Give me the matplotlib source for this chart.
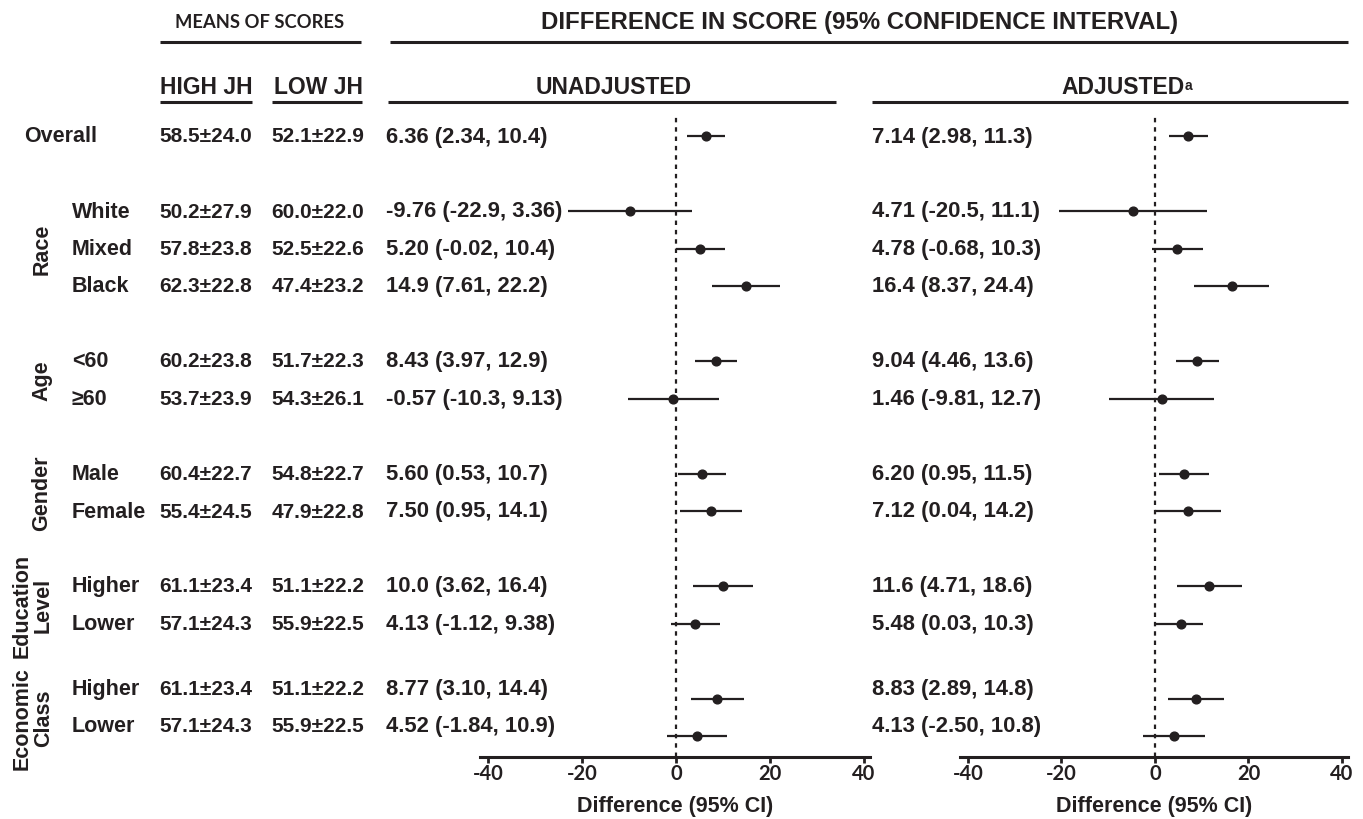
import matplotlib
matplotlib.use("Agg")
import matplotlib.pyplot as plt

# ---------------- data ----------------
groups = ["", "Race", "Age", "Gender", "Education\nLevel", "Economic\nClass"]
row_group = [0, 1, 1, 1, 2, 2, 3, 3, 4, 4, 5, 5]
row_labels = ["Overall", "White", "Mixed", "Black", "<60", "≥60", "Male", "Female",
              "Higher", "Lower", "Higher", "Lower"]

high_jh = ["58.5±24.0", "50.2±27.9", "57.8±23.8", "62.3±22.8", "60.2±23.8", "53.7±23.9",
           "60.4±22.7", "55.4±24.5", "61.1±23.4", "57.1±24.3", "61.1±23.4", "57.1±24.3"]
low_jh = ["52.1±22.9", "60.0±22.0", "52.5±22.6", "47.4±23.2", "51.7±22.3", "54.3±26.1",
          "54.8±22.7", "47.9±22.8", "51.1±22.2", "55.9±22.5", "51.1±22.2", "55.9±22.5"]

unadj_est = [6.36, -9.76, 5.20, 14.9, 8.43, -0.57, 5.60, 7.50, 10.0, 4.13, 8.77, 4.52]
unadj_lo = [2.34, -22.9, -0.02, 7.61, 3.97, -10.3, 0.53, 0.95, 3.62, -1.12, 3.10, -1.84]
unadj_hi = [10.4, 3.36, 10.4, 22.2, 12.9, 9.13, 10.7, 14.1, 16.4, 9.38, 14.4, 10.9]
unadj_txt = ["6.36 (2.34, 10.4)", "-9.76 (-22.9, 3.36)", "5.20 (-0.02, 10.4)", "14.9 (7.61, 22.2)",
             "8.43 (3.97, 12.9)", "-0.57 (-10.3, 9.13)", "5.60 (0.53, 10.7)", "7.50 (0.95, 14.1)",
             "10.0 (3.62, 16.4)", "4.13 (-1.12, 9.38)", "8.77 (3.10, 14.4)", "4.52 (-1.84, 10.9)"]

adj_est = [7.14, -4.71, 4.78, 16.4, 9.04, 1.46, 6.20, 7.12, 11.6, 5.48, 8.83, 4.13]
adj_lo = [2.98, -20.5, -0.68, 8.37, 4.46, -9.81, 0.95, 0.04, 4.71, 0.03, 2.89, -2.50]
adj_hi = [11.3, 11.1, 10.3, 24.4, 13.6, 12.7, 11.5, 14.2, 18.6, 10.3, 14.8, 10.8]
adj_txt = ["7.14 (2.98, 11.3)", "4.71 (-20.5, 11.1)", "4.78 (-0.68, 10.3)", "16.4 (8.37, 24.4)",
           "9.04 (4.46, 13.6)", "1.46 (-9.81, 12.7)", "6.20 (0.95, 11.5)", "7.12 (0.04, 14.2)",
           "11.6 (4.71, 18.6)", "5.48 (0.03, 10.3)", "8.83 (2.89, 14.8)", "4.13 (-2.50, 10.8)"]

xticks = [-40, -20, 0, 20, 40]
xtick_labels = ["-40", "-20", "0", "20", "40"]

# ---------------- layout ----------------
W, H = 1363, 820
INK = "#231f20"
BODY = ["Liberation Sans", "DejaVu Sans"]
NARROW = ["Liberation Sans Narrow", "Liberation Sans", "DejaVu Sans"]
TICKF = ["Lato", "DejaVu Sans"]

# row positions (pixels from top)
ys = []
y = 137.0
for i, g in enumerate(row_group):
    if i > 0:
        y += 37.5 if g == row_group[i - 1] else 75.0
    ys.append(y)
text_shift = [(-10 if g == 5 else 0) for g in row_group]

fig = plt.figure(figsize=(W / 100, H / 100), dpi=100)
canvas = fig.add_axes([0, 0, 1, 1])
canvas.set_xlim(0, W)
canvas.set_ylim(H, 0)
canvas.axis("off")

def txt(x, y, s, size=15.5, ha="left", fam=BODY, **kw):
    return canvas.text(x, y, s, fontsize=size, ha=ha, va="center", color=INK,
                       fontweight="bold", family=fam, **kw)

# header lines
for x0, x1, yy in [(160, 361, 43), (390, 1348, 43),
                   (160, 252, 103), (272, 362, 103), (388, 836, 103), (872, 1348, 103)]:
    canvas.plot([x0, x1], [yy, yy], color=INK, lw=2.2, solid_capstyle="butt")

txt(260, 22, "MEANS OF SCORES", size=13.2, ha="center", fam=TICKF)
txt(860, 22, "DIFFERENCE IN SCORE (95% CONFIDENCE INTERVAL)", size=17.3, ha="center", fam=NARROW)
txt(206, 87, "HIGH JH", size=16.5, ha="center", fam=NARROW)
txt(318, 87, "LOW JH", size=16.5, ha="center", fam=NARROW)
txt(614, 87, "UNADJUSTED", size=16.5, ha="center", fam=NARROW)
t_adj = txt(1123, 87, "ADJUSTED", size=16.5, ha="center", fam=NARROW)
canvas.annotate("a", xy=(1.0, 0.85), xycoords=t_adj, ha="left", va="top",
                fontsize=10, fontweight="bold", color=INK, family=NARROW)

# row texts
for i in range(len(row_labels)):
    yy = ys[i] + text_shift[i]
    if row_group[i] == 0:
        txt(24, yy, row_labels[i])
    else:
        txt(72, yy, row_labels[i])
    txt(206, yy, high_jh[i], size=15, ha="center")
    txt(318, yy, low_jh[i], size=15, ha="center")
    txt(386, yy, unadj_txt[i], size=15.8)
    txt(872, yy, adj_txt[i], size=15.8)

# group labels (rotated)
for g in range(1, len(groups)):
    idx = [i for i, gg in enumerate(row_group) if gg == g]
    yc = (ys[idx[0]] + ys[idx[-1]]) / 2
    xc = 42 if "\n" not in groups[g] else 33
    canvas.text(xc, yc, groups[g], rotation=90, fontsize=15.5, ha="center", va="center",
                multialignment="center", color=INK, fontweight="bold", family=BODY,
                linespacing=1.0)

# forest panels
def forest(x0, x1, est, lo, hi):
    ax = fig.add_axes([x0 / W, (H - 758) / H, (x1 - x0) / W, (758 - 117) / H])
    ax.patch.set_alpha(0)
    ax.set_xlim(-41.7, 41.3)
    ax.set_ylim(758, 117)
    ax.axvline(0, color=INK, lw=1.6, ls=(0, (2, 2.2)), zorder=1)
    ax.hlines(ys, lo, hi, color=INK, lw=1.6, zorder=2)
    ax.plot(est, ys, "o", color=INK, ms=6.3, zorder=3)
    for s in ["top", "right", "left"]:
        ax.spines[s].set_visible(False)
    ax.spines["bottom"].set_linewidth(2.2)
    ax.spines["bottom"].set_color(INK)
    ax.set_yticks([])
    ax.set_xticks(xticks)
    ax.set_xticklabels(xtick_labels, fontsize=14.5, fontweight="bold", family=TICKF, color=INK)
    ax.tick_params(axis="x", direction="out", length=4, width=2, color=INK, pad=0)
    ax.set_xlabel("Difference (95% CI)", fontsize=15.5, fontweight="bold", family=BODY,
                  color=INK, labelpad=9)
    return ax

forest(480, 870, unadj_est, unadj_lo, unadj_hi)
forest(960, 1348, adj_est, adj_lo, adj_hi)

fig.savefig("out.png", dpi=100)
